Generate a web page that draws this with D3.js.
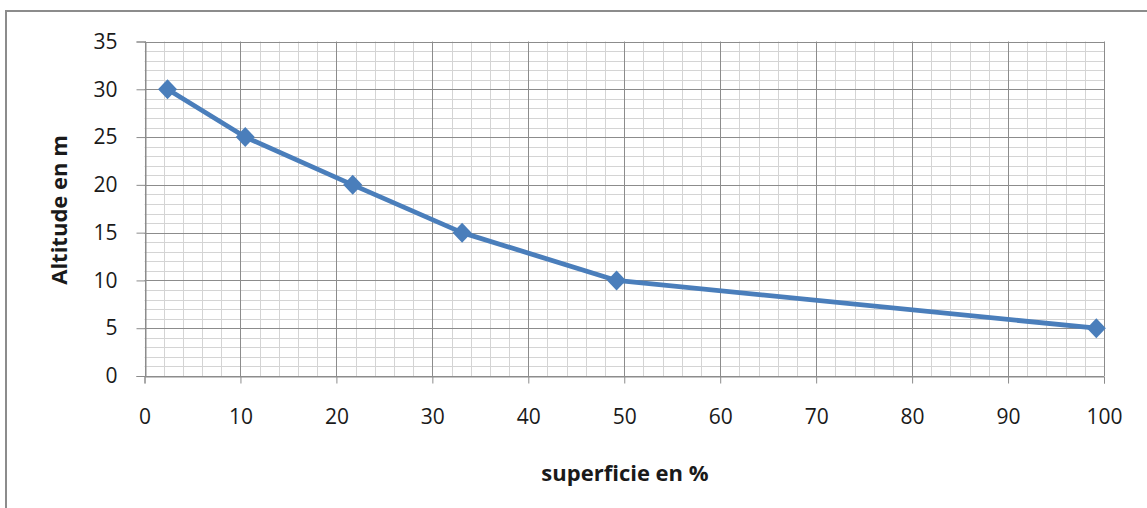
<!DOCTYPE html>
<html><head><meta charset="utf-8">
<script src="https://cdn.jsdelivr.net/npm/d3@7"></script>
<style>body{margin:0;background:#fff}svg{display:block}</style>
</head><body>
<svg id="c" width="1147" height="508"></svg>
<script>
const superficie = [2.4, 10.5, 21.7, 33.1, 49.2, 99.2];
const altitude = [30, 25, 20, 15, 10, 5];
const xTicks = [0,10,20,30,40,50,60,70,80,90,100];
const yTicks = [0,5,10,15,20,25,30,35];
const xLabel = "superficie en %";
const yLabel = "Altitude en m";

const svg = d3.select("#c");
const font = "'Open Sans', 'DejaVu Sans', sans-serif";
svg.append("rect").attr("x",6).attr("y",11).attr("width",1160).attr("height",520)
  .attr("fill","#fff").attr("stroke","#8c8c8c").attr("stroke-width",2);

const x = d3.scaleLinear().domain([0,100]).range([144.5,1104]);
const y = d3.scaleLinear().domain([0,35]).range([376,41.5]);
const g = svg.append("g");

g.selectAll(".mx").data(d3.range(0,101,2).filter(v=>v%10)).join("line")
  .attr("x1",d=>Math.round(x(d))+0.5).attr("x2",d=>Math.round(x(d))+0.5)
  .attr("y1",y(0)).attr("y2",y(35)).attr("stroke","#d4d4d4").attr("stroke-width",1);
g.selectAll(".my").data(d3.range(0,36,1).filter(v=>v%5)).join("line")
  .attr("y1",d=>Math.round(y(d))+0.5).attr("y2",d=>Math.round(y(d))+0.5)
  .attr("x1",x(0)).attr("x2",x(100)).attr("stroke","#d4d4d4").attr("stroke-width",1);
g.selectAll(".Mx").data(xTicks).join("line")
  .attr("x1",d=>Math.round(x(d))+0.5).attr("x2",d=>Math.round(x(d))+0.5)
  .attr("y1",y(0)).attr("y2",y(35)).attr("stroke","#8c8c8c").attr("stroke-width",1);
g.selectAll(".My").data(yTicks).join("line")
  .attr("y1",d=>Math.round(y(d))+0.5).attr("y2",d=>Math.round(y(d))+0.5)
  .attr("x1",x(0)).attr("x2",x(100)).attr("stroke","#8c8c8c").attr("stroke-width",1);

const xAxis = d3.axisBottom(x).tickValues(xTicks).tickSize(7).tickPadding(26).tickFormat(d3.format("d"));
const yAxis = d3.axisLeft(y).tickValues(yTicks).tickSize(9).tickPadding(19).tickFormat(d3.format("d"));
const xa = svg.append("g").attr("transform",`translate(0,${Math.round(y(0))+0.5})`).call(xAxis);
const ya = svg.append("g").attr("transform",`translate(${Math.round(x(0))+0.5},0)`).call(yAxis);
[xa,ya].forEach(a=>{
  a.attr("font-size",null).attr("font-family",null);
  a.select(".domain").attr("stroke","#8c8c8c");
  a.selectAll(".tick line").attr("stroke","#8c8c8c");
  a.selectAll("text").style("font-family",font).style("font-size","21px").attr("fill","#1a1a1a");
});

const pts = superficie.map((s,i)=>[s,altitude[i]]);
svg.append("path").datum(pts)
  .attr("d",d3.line().x(d=>x(d[0])).y(d=>y(d[1])))
  .attr("fill","none").attr("stroke","#4a7ebb").attr("stroke-width",4.8).attr("stroke-linejoin","round");
svg.selectAll(".pt").data(pts).join("path")
  .attr("transform",d=>`translate(${x(d[0])},${y(d[1])})`)
  .attr("d","M0,-10L9.5,0L0,10L-9.5,0Z").attr("fill","#4a7ebb");

svg.append("text").attr("x",625).attr("y",481).attr("text-anchor","middle")
  .style("font-family",font).style("font-size","22px").attr("font-weight","bold").attr("fill","#1a1a1a").text(xLabel);
svg.append("text").attr("transform","translate(67,210) rotate(-90)").attr("text-anchor","middle")
  .style("font-family",font).style("font-size","22px").attr("font-weight","bold").attr("fill","#1a1a1a").text(yLabel);
</script>
</body></html>
